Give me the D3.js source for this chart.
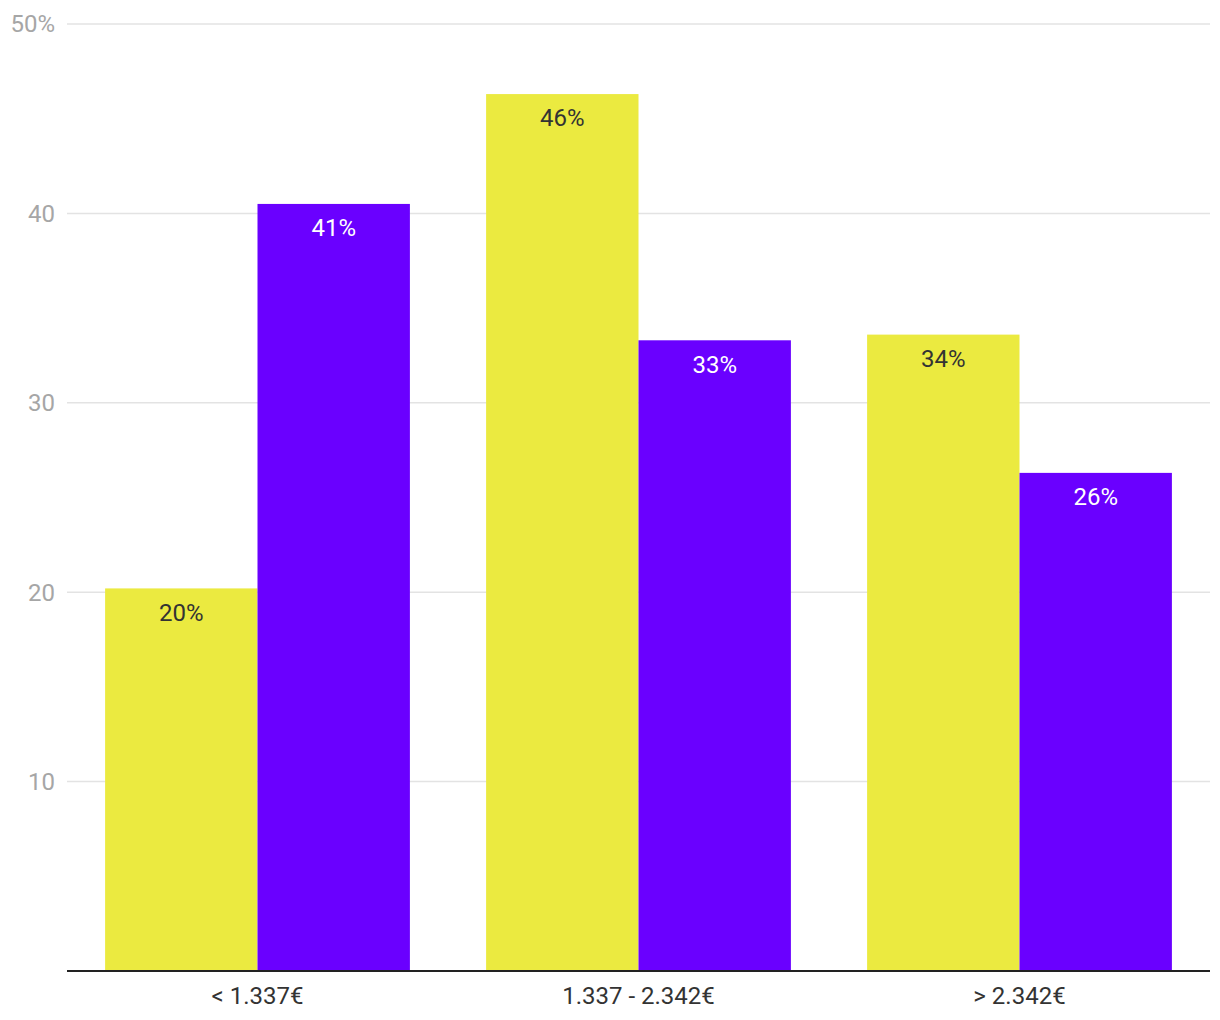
<!DOCTYPE html>
<html><head><meta charset="utf-8">
<script src="https://cdn.jsdelivr.net/npm/d3@7"></script>
<style>body{margin:0;background:#fff;font-family:Roboto,sans-serif}</style>
</head><body><svg id="c" width="1220" height="1020"></svg>
<script>
const categories = ["< 1.337€", "1.337 - 2.342€", "> 2.342€"];
const seriesA = [20.2, 46.3, 33.6];
const seriesB = [40.5, 33.3, 26.3];
const labelsA = ["20%", "46%", "34%"];
const labelsB = ["41%", "33%", "26%"];
const yTicks = [10, 20, 30, 40, 50];
const colors = ["#ebea40", "#6a00ff"];
const labelColors = ["#333333", "#ffffff"];

const svg = d3.select("#c");
const m = {l: 67, r: 10, t: 24, b: 49};
const W = 1220, H = 1020;
const x = d3.scaleBand().domain(categories).range([m.l, W - m.r]).paddingInner(0.2).paddingOuter(0.1);
const xs = d3.scaleBand().domain([0, 1]).range([0, x.bandwidth()]);
const y = d3.scaleLinear().domain([0, 50]).range([H - m.b, m.t]);

// grid
svg.append("g").selectAll("line").data(yTicks).join("line")
  .attr("x1", m.l).attr("x2", W - m.r)
  .attr("y1", d => y(d)).attr("y2", d => y(d))
  .attr("stroke", "#e3e3e3").attr("stroke-width", 1.5);
svg.append("g").selectAll("text").data(yTicks).join("text")
  .attr("x", 55).attr("y", d => y(d)).attr("dy", "0.35em")
  .attr("text-anchor", "end").attr("fill", "#a6a6a6").attr("font-size", 24)
  .text(d => d === 50 ? d + "%" : d);

const series = [seriesA, seriesB];
const labels = [labelsA, labelsB];
series.forEach((s, si) => {
  const g = svg.append("g");
  g.selectAll("rect").data(s).join("rect")
    .attr("x", (d, i) => x(categories[i]) + xs(si))
    .attr("width", xs.bandwidth())
    .attr("y", d => y(d)).attr("height", d => y(0) - y(d))
    .attr("fill", colors[si]);
  g.selectAll("text").data(s).join("text")
    .attr("x", (d, i) => x(categories[i]) + xs(si) + xs.bandwidth() / 2)
    .attr("y", d => y(d) + 24).attr("dy", "0.35em")
    .attr("text-anchor", "middle").attr("fill", labelColors[si]).attr("font-size", 24)
    .text((d, i) => labels[si][i]);
});

// axis
svg.append("line").attr("x1", m.l).attr("x2", W - m.r)
  .attr("y1", y(0)).attr("y2", y(0)).attr("stroke", "#222").attr("stroke-width", 2);
svg.append("g").selectAll("text").data(categories).join("text")
  .attr("x", d => x(d) + x.bandwidth() / 2).attr("y", y(0) + 25).attr("dy", "0.35em")
  .attr("text-anchor", "middle").attr("fill", "#333").attr("font-size", 24)
  .text(d => d);
</script></body></html>
